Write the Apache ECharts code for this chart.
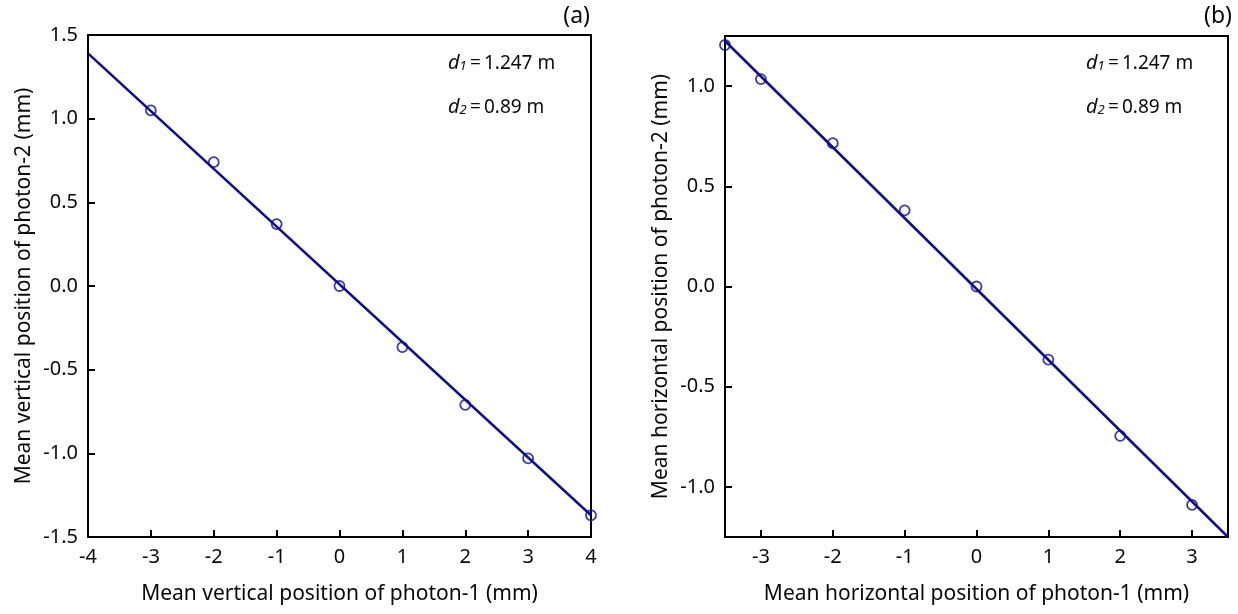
<!DOCTYPE html>
<html>
<head>
<meta charset="utf-8">
<script src="https://cdn.jsdelivr.net/npm/echarts@6/dist/echarts.min.js"></script>
<style>
html,body{margin:0;padding:0;background:#fff;}
#chart{width:1238px;height:614px;}
</style>
</head>
<body>
<div id="chart"></div>
<script>
// Panel (a): vertical positions
const xA = [-3, -2, -1, 0, 1, 2, 3, 4];
const yA = [1.05, 0.74, 0.37, 0.00, -0.365, -0.71, -1.03, -1.37];
const fitAx = [-4, 4];
const fitAy = [1.39, -1.37];
// Panel (b): horizontal positions
const xB = [-3.5, -3, -2, -1, 0, 1, 2, 3];
const yB = [1.205, 1.035, 0.715, 0.38, 0.00, -0.365, -0.745, -1.09];
const fitBx = [-3.5, 3.5];
const fitBy = [1.225, -1.25];
// Tick values
const ticksAx = [-4, -3, -2, -1, 0, 1, 2, 3, 4];
const ticksAy = [-1.5, -1.0, -0.5, 0.0, 0.5, 1.0, 1.5];
const ticksBx = [-3, -2, -1, 0, 1, 2, 3];
const ticksBy = [-1.0, -0.5, 0.0, 0.5, 1.0];
// Text
const titleAx = 'Mean vertical position of photon-1 (mm)';
const titleAy = 'Mean vertical position of photon-2 (mm)';
const titleBx = 'Mean horizontal position of photon-1 (mm)';
const titleBy = 'Mean horizontal position of photon-2 (mm)';
const d1Text = '1.247 m';
const d2Text = '0.89 m';

const FONT = 'Noto Sans';
const BLUE = '#0a0a9c';
const TXT = '#0a0a0a';
const pairs = (xs, ys) => xs.map((x, i) => [x, ys[i]]);

const axisCommon = {
  axisLine: {show: true, onZero: false, lineStyle: {color: '#000', width: 2}},
  axisTick: {show: true, inside: true, length: 7, lineStyle: {color: '#000', width: 2}},
  splitLine: {show: false},
};
const labelStyle = {color: TXT, fontFamily: FONT, fontSize: 20};
const nameStyle = {color: TXT, fontFamily: FONT, fontSize: 21};

function xAxis(gi, min, max, ticks, name) {
  return Object.assign({}, axisCommon, {
    type: 'value', gridIndex: gi, min, max, name,
    nameLocation: 'middle', nameGap: 47, nameTextStyle: nameStyle,
    axisTick: Object.assign({}, axisCommon.axisTick, {customValues: ticks}),
    axisLabel: Object.assign({}, labelStyle, {margin: 10, customValues: ticks,
      formatter: v => String(Math.round(v))})
  });
}
function yAxis(gi, min, max, ticks, name) {
  return Object.assign({}, axisCommon, {
    type: 'value', gridIndex: gi, min, max, name,
    nameLocation: 'middle', nameGap: 53, nameTextStyle: nameStyle,
    axisTick: Object.assign({}, axisCommon.axisTick, {customValues: ticks}),
    axisLabel: Object.assign({}, labelStyle, {margin: 10, customValues: ticks,
      formatter: v => v.toFixed(1)})
  });
}

function annot(left, top, sub, val) {
  return {
    type: 'text', left, top,
    style: {
      text: '{i|d}{s|' + sub + '}{n|\u2009=\u2009' + val + '}',
      rich: {
        i: {fontFamily: FONT, fontStyle: 'italic', fontSize: 20, fill: TXT, verticalAlign: 'bottom', lineHeight: 26},
        s: {fontFamily: FONT, fontStyle: 'italic', fontSize: 13, fill: TXT, verticalAlign: 'bottom', lineHeight: 20},
        n: {fontFamily: FONT, fontSize: 19, fill: TXT, verticalAlign: 'bottom', lineHeight: 26}
      }
    }
  };
}

const scatterStyle = {
  symbol: 'circle', symbolSize: 10,
  itemStyle: {color: 'rgba(255,255,255,0)', borderColor: BLUE, borderWidth: 1.8},
};

const option = {
  backgroundColor: '#fff',
  animation: false,
  grid: [
    {left: 88, top: 35, width: 503, height: 502, show: true, borderColor: '#000', borderWidth: 2, backgroundColor: 'transparent'},
    {left: 725, top: 36, width: 503, height: 501, show: true, borderColor: '#000', borderWidth: 2, backgroundColor: 'transparent'}
  ],
  xAxis: [
    xAxis(0, -4, 4, ticksAx, titleAx),
    xAxis(1, -3.5, 3.5, ticksBx, titleBx)
  ],
  yAxis: [
    yAxis(0, -1.5, 1.5, ticksAy, titleAy),
    yAxis(1, -1.25, 1.25, ticksBy, titleBy)
  ],
  series: [
    {type: 'line', xAxisIndex: 0, yAxisIndex: 0, data: pairs(fitAx, fitAy), showSymbol: false,
     lineStyle: {color: BLUE, width: 2.5}, z: 2},
    Object.assign({type: 'scatter', xAxisIndex: 0, yAxisIndex: 0, data: pairs(xA, yA), clip: false, z: 3}, scatterStyle),
    {type: 'line', xAxisIndex: 1, yAxisIndex: 1, data: pairs(fitBx, fitBy), showSymbol: false,
     lineStyle: {color: BLUE, width: 2.5}, z: 2},
    Object.assign({type: 'scatter', xAxisIndex: 1, yAxisIndex: 1, data: pairs(xB, yB), clip: false, z: 3}, scatterStyle)
  ],
  graphic: [
    {type: 'text', right: 1238 - 590, top: 5, style: {text: '(a)', fontFamily: FONT, fontSize: 23, fill: TXT, align: 'right'}},
    {type: 'text', right: 6, top: 5, style: {text: '(b)', fontFamily: FONT, fontSize: 23, fill: TXT, align: 'right'}},
    annot(448, 53, '1', d1Text),
    annot(448, 97, '2', d2Text),
    annot(1086, 53, '1', d1Text),
    annot(1086, 97, '2', d2Text)
  ]
};

const chart = echarts.init(document.getElementById('chart'), null, {renderer: 'canvas'});
chart.setOption(option);
</script>
</body>
</html>
